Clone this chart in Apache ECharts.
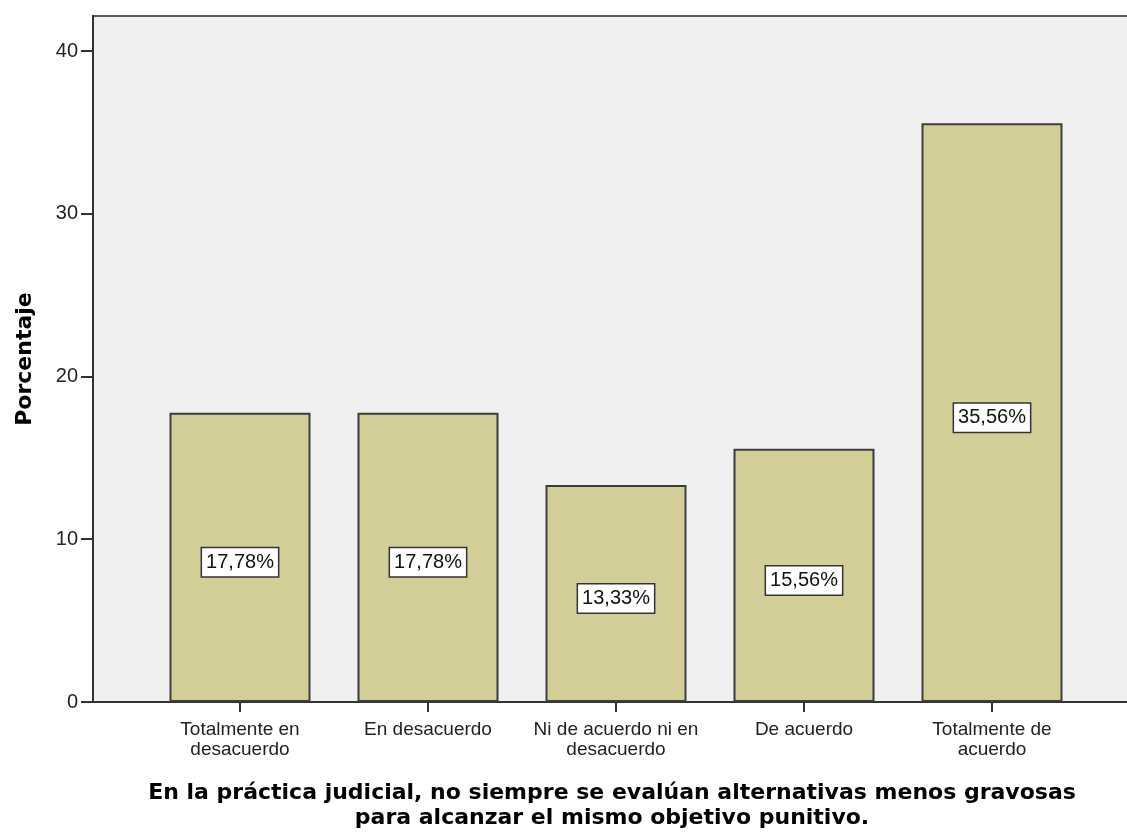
<!DOCTYPE html>
<html>
<head>
<meta charset="utf-8">
<script src="https://cdn.jsdelivr.net/npm/echarts@6/dist/echarts.min.js"></script>
<style>
  html, body { margin: 0; padding: 0; background: #fff; }
  #chart { width: 1127px; height: 834px; }
</style>
</head>
<body>
<div id="chart"></div>
<script>
const categories = [
  "Totalmente en\ndesacuerdo",
  "En desacuerdo",
  "Ni de acuerdo ni en\ndesacuerdo",
  "De acuerdo",
  "Totalmente de\nacuerdo",
];
const percentages = [17.78, 17.78, 13.33, 15.56, 35.56];
const yTicks = [0, 10, 20, 30, 40];
const yMax = 42.15;

const FONT = "Liberation Sans, Arial, sans-serif";
const BOLD_FONT = "DejaVu Sans, sans-serif";

const chartDom = document.getElementById("chart");
const myChart = echarts.init(chartDom);

myChart.setOption({
  animation: false,
  grid: [
    // background panel
    {
      left: 93, right: -4, top: 16, bottom: 132,
      outerBoundsMode: "none",
      containLabel: false,
      show: true,
      backgroundColor: "#f0f0f0",
      borderColor: "#5a5a5a",
      borderWidth: 2,
    },
    // bars
    { left: 146, right: 41, top: 16, bottom: 132, outerBoundsMode: "none", containLabel: false },
  ],
  xAxis: [
    {
      gridIndex: 0,
      type: "value",
      min: 0,
      max: 1,
      axisLine: { show: true, onZero: false, lineStyle: { color: "#333", width: 2 } },
      axisTick: { show: false },
      axisLabel: { show: false },
      splitLine: { show: false },
      name: "En la práctica judicial, no siempre se evalúan alternativas menos gravosas\npara alcanzar el mismo objetivo punitivo.",
      nameLocation: "middle",
      nameGap: 79,
      nameTextStyle: {
        fontFamily: BOLD_FONT,
        fontWeight: "bold",
        fontSize: 22,
        color: "#000",
        lineHeight: 25,
        align: "center",
      },
    },
    {
      gridIndex: 1,
      type: "category",
      data: categories,
      axisLine: { show: false },
      axisTick: { show: true, alignWithLabel: true, length: 10, lineStyle: { color: "#333", width: 2 } },
      axisLabel: {
        fontFamily: FONT,
        fontSize: 19,
        color: "#222",
        lineHeight: 20,
        margin: 18,
        interval: 0,
      },
    },
  ],
  yAxis: [
    {
      gridIndex: 0,
      type: "value",
      min: 0,
      max: yMax,
      interval: 10,
      axisLine: { show: true, lineStyle: { color: "#333", width: 2 } },
      axisTick: { show: true, length: 12, customValues: yTicks, lineStyle: { color: "#333", width: 2 } },
      axisLabel: {
        fontFamily: FONT,
        fontSize: 20,
        color: "#222",
        margin: 15,
        customValues: yTicks,
      },
      splitLine: { show: false },
      name: "Porcentaje",
      nameLocation: "middle",
      nameRotate: 90,
      nameGap: 57,
      nameTextStyle: {
        fontFamily: BOLD_FONT,
        fontWeight: "bold",
        fontSize: 22,
        color: "#000",
      },
    },
    {
      gridIndex: 1,
      type: "value",
      min: 0,
      max: yMax,
      show: false,
    },
  ],
  series: [
    {
      type: "bar",
      xAxisIndex: 1,
      yAxisIndex: 1,
      data: percentages,
      barCategoryGap: "25%",
      itemStyle: {
        color: "#d3ce97",
        borderColor: "#3c3c3c",
        borderWidth: 2,
      },
      label: {
        show: true,
        position: "inside",
        offset: [0, 5],
        formatter: (p) => p.value.toFixed(2).replace(".", ",") + "%",
        fontFamily: FONT,
        fontSize: 20,
        lineHeight: 21,
        color: "#111",
        backgroundColor: "#fff",
        borderColor: "#333",
        borderWidth: 1.5,
        padding: [4, 4, 3, 4],
      },
    },
  ],
});
</script>
</body>
</html>
